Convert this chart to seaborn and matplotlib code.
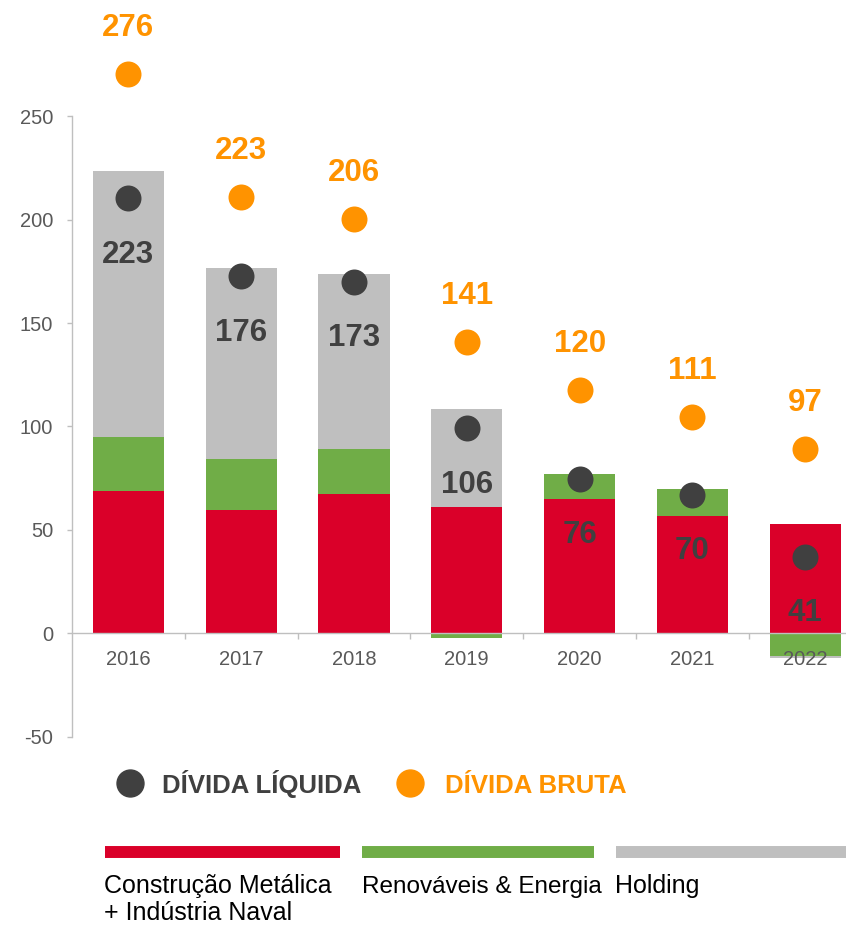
import numpy as np
import pandas as pd
import matplotlib
matplotlib.use("Agg")
import matplotlib.pyplot as plt
import seaborn as sns
from matplotlib.lines import Line2D

# ---------------- data ----------------
years = ["2016", "2017", "2018", "2019", "2020", "2021", "2022"]
construcao = [68.7, 59.6, 67.3, 61.1, 65.1, 56.9, 52.7]
renovaveis = [26.2, 24.7, 21.9, -2.1, 11.7, 12.9, -10.8]
holding = [128.5, 92.3, 84.5, 47.2, 0.0, 0.0, -1.0]
divida_liquida_pts = [210.3, 172.6, 169.9, 99.1, 74.6, 67.1, 37.0]
divida_bruta_pts = [270.3, 210.8, 200.2, 140.9, 117.6, 104.6, 89.1]
divida_liquida_lbl = [223, 176, 173, 106, 76, 70, 41]
divida_bruta_lbl = [276, 223, 206, 141, 120, 111, 97]
yticks = [-50, 0, 50, 100, 150, 200, 250]

RED = "#DA0029"
GREEN = "#70AD47"
GREY = "#BFBFBF"
DARK = "#404040"
ORANGE = "#FF9300"
TICK = "#595959"

sns.set_theme(style="white")
plt.rcParams["font.family"] = ["Liberation Sans", "DejaVu Sans"]
plt.rcParams["axes.unicode_minus"] = False

W, H = 846, 927
fig = plt.figure(figsize=(W / 100, H / 100), dpi=100)
ax = fig.add_axes([72 / W, 1 - 736.7 / H, 7 * 112.8 / W, (736.7 - 116.3) / H])

c = np.array(construcao)
r = np.array(renovaveis)
h = np.array(holding)
pos = lambda a: np.clip(a, 0, None)
neg = lambda a: np.clip(a, None, 0)
layers = [
    (pos(c) + pos(r) + pos(h), GREY),
    (pos(c) + pos(r), GREEN),
    (pos(c), RED),
    (neg(c) + neg(r) + neg(h), GREY),
    (neg(c) + neg(r), GREEN),
    (neg(c), RED),
]
for vals, col in layers:
    df = pd.DataFrame({"ano": years, "valor": vals})
    sns.barplot(data=df, x="ano", y="valor", order=years, color=col,
                width=0.63, saturation=1, errorbar=None, ax=ax,
                linewidth=0, zorder=1)

sns.scatterplot(x=years, y=divida_bruta_pts, color=ORANGE, s=350, linewidth=0,
                ax=ax, clip_on=False, zorder=4, legend=False)
sns.scatterplot(x=years, y=divida_liquida_pts, color=DARK, s=350, linewidth=0,
                ax=ax, clip_on=False, zorder=4, legend=False)

for i, (yv, lab) in enumerate(zip(divida_bruta_pts, divida_bruta_lbl)):
    ax.annotate(str(lab), xy=(i, yv), xytext=(0, 27.3), textcoords="offset points",
                ha="center", va="baseline", fontsize=22.5, fontweight="bold",
                color=ORANGE, annotation_clip=False, zorder=5)
for i, (yv, lab) in enumerate(zip(divida_liquida_pts, divida_liquida_lbl)):
    ax.annotate(str(lab), xy=(i, yv), xytext=(0, -46.4), textcoords="offset points",
                ha="center", va="baseline", fontsize=22.5, fontweight="bold",
                color=DARK, annotation_clip=False, zorder=5)

ax.set_xlim(-0.5, 6.5)
ax.set_ylim(-50, 250)
ax.set_yticks(yticks)
ax.set_xlabel("")
ax.set_ylabel("")
ax.set_axisbelow(False)
for s in ["top", "right"]:
    ax.spines[s].set_visible(False)
ax.spines["bottom"].set_position(("data", 0))
for s in ["left", "bottom"]:
    ax.spines[s].set_color(GREY)
    ax.spines[s].set_linewidth(1.0)

ax.tick_params(axis="y", left=True, length=3.6, width=1, color=GREY, pad=10,
               labelsize=14.5, labelcolor=TICK)
ax.set_xticks(np.arange(0.5, 6.0, 1.0), minor=True)
ax.tick_params(axis="x", which="major", bottom=True, length=0, pad=12,
               labelsize=14.5, labelcolor=TICK)
ax.tick_params(axis="x", which="minor", bottom=True, length=4.3, width=1,
               color=GREY, direction="out")

# ---------------- legends ----------------
def fx(x):
    return x / W

def fy(y):
    return 1 - y / H

fig.add_artist(Line2D([fx(129.5)], [fy(783)], marker="o", ms=19.4, color=DARK,
                      linestyle="none", transform=fig.transFigure))
fig.text(fx(162), fy(793), "DÍVIDA LÍQUIDA", fontsize=18.5, fontweight="bold",
         color=DARK, va="baseline", ha="left")
fig.add_artist(Line2D([fx(410)], [fy(783)], marker="o", ms=19.4, color=ORANGE,
                      linestyle="none", transform=fig.transFigure))
fig.text(fx(445), fy(793), "DÍVIDA BRUTA", fontsize=18.5, fontweight="bold",
         color=ORANGE, va="baseline", ha="left")

for x0, x1, col in [(105, 340, RED), (362, 594, GREEN), (616, 860, GREY)]:
    fig.add_artist(Line2D([fx(x0), fx(x1)], [fy(852), fy(852)], lw=8.6, color=col,
                          solid_capstyle="butt", transform=fig.transFigure))

fig.text(fx(104), fy(893), "Construção Metálica", fontsize=18, color="black",
         va="baseline", ha="left")
fig.text(fx(104), fy(920), "+ Indústria Naval", fontsize=18, color="black",
         va="baseline", ha="left")
fig.text(fx(362), fy(893), "Renováveis & Energia", fontsize=17.5, color="black",
         va="baseline", ha="left")
fig.text(fx(615), fy(893), "Holding", fontsize=18, color="black",
         va="baseline", ha="left")

fig.savefig("out.png", dpi=100)
